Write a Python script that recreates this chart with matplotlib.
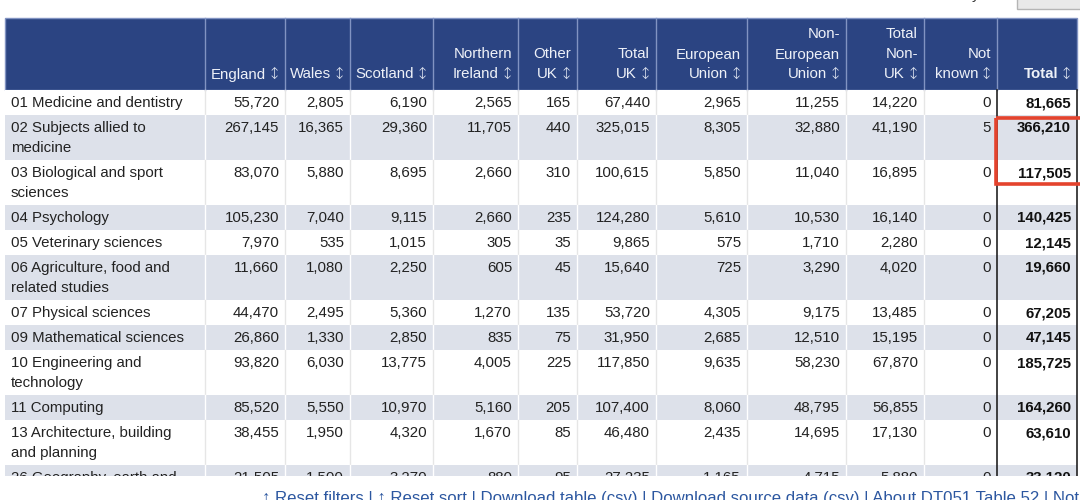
import matplotlib.pyplot as plt
from matplotlib.patches import Rectangle

# ============== DATA ==============
subjects = [
    "01 Medicine and dentistry",
    "02 Subjects allied to\nmedicine",
    "03 Biological and sport\nsciences",
    "04 Psychology",
    "05 Veterinary sciences",
    "06 Agriculture, food and\nrelated studies",
    "07 Physical sciences",
    "09 Mathematical sciences",
    "10 Engineering and\ntechnology",
    "11 Computing",
    "13 Architecture, building\nand planning",
    "26 Geography, earth and\nenvironmental studies",
]
england      = [55720, 267145, 83070, 105230, 7970, 11660, 44470, 26860, 93820, 85520, 38455, 21505]
wales        = [2805, 16365, 5880, 7040, 535, 1080, 2495, 1330, 6030, 5550, 1950, 1500]
scotland     = [6190, 29360, 8695, 9115, 1015, 2250, 5360, 2850, 13775, 10970, 4320, 3270]
n_ireland    = [2565, 11705, 2660, 2660, 305, 605, 1270, 835, 4005, 5160, 1670, 880]
other_uk     = [165, 440, 310, 235, 35, 45, 135, 75, 225, 205, 85, 95]
total_uk     = [67440, 325015, 100615, 124280, 9865, 15640, 53720, 31950, 117850, 107400, 46480, 27235]
eu           = [2965, 8305, 5850, 5610, 575, 725, 4305, 2685, 9635, 8060, 2435, 1165]
non_eu       = [11255, 32880, 11040, 10530, 1710, 3290, 9175, 12510, 58230, 48795, 14695, 4715]
total_non_uk = [14220, 41190, 16895, 16140, 2280, 4020, 13485, 15195, 67870, 56855, 17130, 5880]
not_known    = [0, 5, 0, 0, 0, 0, 0, 0, 0, 0, 0, 0]
total        = [81665, 366210, 117505, 140425, 12145, 19660, 67205, 47145, 185725, 164260, 63610, 33120]

headers = ["England", "Wales", "Scotland", "Northern\nIreland", "Other\nUK",
           "Total\nUK", "European\nUnion", "Non-\nEuropean\nUnion", "Total\nNon-\nUK",
           "Not\nknown", "Total"]
SORT_MARK = "↕"
highlighted = [1, 2]   # rows boxed in red (Total column)

footer = ("↑ Reset filters | ↑ Reset sort | Download table (csv) | "
          "Download source data (csv) | About DT051 Table 52 | Not")
# ==================================

# layout (pixels)
COL_EDGES = [5, 205, 285, 350, 433, 518, 577, 656, 747, 846, 924, 997, 1077]
HEAD_TOP, HEAD_BOT = 18, 89.5
CLIP_Y = 475.5
FONT = ["Liberation Sans", "DejaVu Sans"]
FS = 10.8
HEAD_BG = "#2b4482"
SHADE = "#dde1ea"

values = [england, wales, scotland, n_ireland, other_uk, total_uk, eu,
          non_eu, total_non_uk, not_known, total]

fig = plt.figure(figsize=(10.8, 5), dpi=100)
ax = fig.add_axes([0, 0, 1, 1])
ax.set_xlim(0, 1080)
ax.set_ylim(500, 0)
ax.axis("off")

# header
ax.add_patch(Rectangle((COL_EDGES[0], HEAD_TOP), COL_EDGES[-1] - COL_EDGES[0], HEAD_BOT - HEAD_TOP,
                       facecolor=HEAD_BG, edgecolor="#8193c2", lw=1, zorder=1))
for x in COL_EDGES[1:-1]:
    ax.plot([x, x], [HEAD_TOP, HEAD_BOT], color="#8193c2", lw=1, zorder=2)
for j, h in enumerate(headers):
    lines = h.split("\n")
    edge = COL_EDGES[j + 2]
    bold = "bold" if j == len(headers) - 1 else "normal"
    for k, line in enumerate(reversed(lines)):
        right = edge - 19 if k == 0 else edge - 6
        ax.text(right, 78.5 - 20 * k, line, ha="right", va="baseline", fontsize=FS,
                color="#eef1f8", family=FONT, zorder=3, fontweight=bold)
    # sort arrow next to the last line
    ax.text(edge - 10.5, 78.8, SORT_MARK, ha="center", va="baseline", fontsize=FS * 1.05,
            color="#dfe4f0", family="DejaVu Sans", fontweight="light", zorder=3)

# body
top = HEAD_BOT
for i, name in enumerate(subjects):
    lines = name.split("\n")
    h = 25 if len(lines) == 1 else 45
    shaded = i % 2 == 1
    ax.add_patch(Rectangle((COL_EDGES[0], top), COL_EDGES[-1] - COL_EDGES[0], h,
                           facecolor=SHADE if shaded else "white", lw=0, zorder=1))
    for x in COL_EDGES[1:-2]:
        ax.plot([x, x], [top, top + h], color="#ffffff" if shaded else "#e6e6e6",
                lw=1, zorder=2)
    for k, line in enumerate(lines):
        ax.text(11, top + 17.5 + 20 * k, line, ha="left", va="baseline", fontsize=FS,
                color="#222222", family=FONT, zorder=3)
    for j, col in enumerate(values):
        last = j == len(values) - 1
        ax.text(COL_EDGES[j + 2] - 6, top + 17.5, f"{col[i]:,}", ha="right", va="baseline",
                fontsize=FS, color="#111111" if last else "#222222", family=FONT,
                fontweight="bold" if last else "normal", zorder=3)
    if i == highlighted[0]:
        box_top = top + 3
    if i == highlighted[-1]:
        box_bot = top + 24
    top += h

# Total column borders
for x in COL_EDGES[-2:]:
    ax.plot([x, x], [HEAD_BOT, CLIP_Y], color="#222222", lw=1.2, zorder=4)

# page cuts off the last row
ax.add_patch(Rectangle((0, CLIP_Y), 1080, 40, facecolor="white", lw=0, zorder=5))

# red highlight box
ax.add_patch(Rectangle((COL_EDGES[-2] - 1.5, box_top), 100, box_bot - box_top,
                       fill=False, edgecolor="#e4432d", lw=2.6, zorder=6))

# bits of page around the table
ax.text(972, -0.5, "y", ha="left", va="baseline", fontsize=FS, color="#333333",
        family=FONT, zorder=7)
ax.add_patch(Rectangle((1017, -5), 80, 14, facecolor="#e9e9e9", edgecolor="#b5b5b5",
                       lw=1, zorder=7))
ax.text(262, 502.5, footer, ha="left", va="baseline", fontsize=12.1, color="#2c57a0",
        family=FONT, zorder=7)

fig.savefig("out.png", dpi=100)
